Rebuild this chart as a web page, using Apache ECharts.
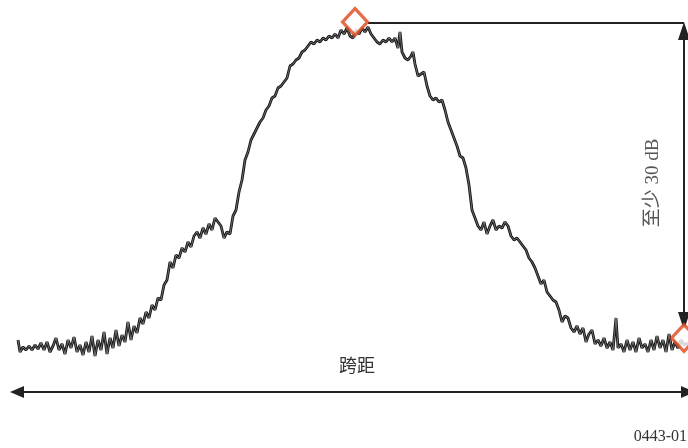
<!DOCTYPE html>
<html><head><meta charset="utf-8">
<script src="https://cdn.jsdelivr.net/npm/echarts@6/dist/echarts.min.js"></script>
<style>html,body{margin:0;padding:0;background:#fff}#c{width:688px;height:448px}</style>
</head><body><div id="c"></div>
<script>
// Frequency bins across the span
const freqBins = [18,20,23,26,29,32,35,38,41,44,47,50,53,56,59,62,65,68,71,74,77,80,83,86,89,92,95,98,101,104,107,110,113,116,119,122,125,128,131,134,137,140,143,146,149,152,155,158,161,164,167,170,173,176,179,182,185,188,191,194,197,200,203,206,209,212,215,218,221,224,227,230,233,236,239,242,245,248,251,254,257,260,263,266,269,272,275,278,281,284,287,290,293,296,299,302,305,308,311,314,317,320,323,326,329,332,335,338,341,344,347,350,353,356,359,362,365,368,371,374,377,380,383,386,389,392,395,398,400,402,405,408,411,413,415,418,421,424,427,430,433,436,439,442,445,448,451,454,457,460,463,466,469,472,475,478,481,484,487,490,493,496,499,502,505,508,511,514,517,520,523,526,529,532,535,538,541,544,547,550,553,556,559,562,565,568,571,574,577,580,583,586,589,592,595,598,601,604,607,610,613,616,618,621,624,627,630,633,636,639,642,645,648,651,654,657,660,663,666,669,672,675,678,681,684,688];
// Measured level relative to the peak (dB)
const levelDb = [-31.8,-33.0,-32.5,-32.8,-32.4,-32.8,-32.3,-32.7,-32.1,-32.8,-32.0,-33.0,-32.4,-31.6,-32.8,-32.2,-33.2,-31.8,-32.6,-31.5,-33.0,-32.3,-33.3,-32.0,-33.0,-31.4,-33.4,-31.8,-32.8,-31.0,-33.2,-31.6,-32.6,-30.8,-32.4,-31.3,-32.0,-30.0,-31.8,-30.4,-31.1,-29.6,-30.2,-29.0,-29.6,-28.3,-28.8,-27.6,-27.8,-26.3,-25.8,-24.0,-24.6,-23.3,-23.6,-22.6,-23.0,-22.0,-22.5,-21.4,-21.0,-21.6,-20.6,-21.2,-20.2,-20.8,-19.6,-20.0,-20.4,-21.6,-21.0,-21.2,-19.4,-18.8,-17.0,-15.8,-13.8,-13.0,-11.8,-11.2,-10.6,-10.0,-9.6,-8.8,-8.4,-7.6,-7.4,-6.6,-6.4,-6.0,-5.6,-4.4,-4.2,-3.8,-3.6,-3.0,-2.8,-2.4,-2.0,-2.2,-1.8,-2.0,-1.6,-1.8,-1.4,-1.6,-1.2,-1.6,-0.8,-1.2,-0.6,-1.4,-1.6,-0.8,-1.2,-0.6,-1.0,-0.5,-1.2,-1.6,-2.0,-2.2,-1.8,-2.0,-1.6,-2.0,-1.6,-2.6,-1.0,-3.0,-3.6,-3.8,-3.4,-3.0,-4.2,-5.4,-5.2,-5.0,-6.4,-7.4,-7.8,-7.6,-8.0,-7.8,-8.8,-10.0,-10.8,-11.6,-12.4,-13.4,-13.6,-14.6,-16.3,-18.8,-19.6,-20.4,-20.8,-20.0,-21.2,-20.4,-19.8,-20.8,-20.4,-20.6,-20.0,-20.4,-21.4,-21.8,-21.6,-22.0,-22.4,-22.8,-23.6,-24.0,-24.6,-25.4,-26.2,-25.8,-27.0,-27.4,-27.8,-28.0,-28.8,-30.0,-29.4,-29.6,-30.6,-31.0,-30.4,-31.2,-30.6,-32.0,-31.2,-30.8,-32.2,-31.8,-32.4,-31.6,-32.6,-32.0,-32.8,-29.6,-32.6,-32.2,-33.0,-31.8,-32.8,-32.0,-33.0,-31.6,-32.6,-32.2,-33.0,-31.8,-32.8,-31.4,-32.6,-31.8,-33.0,-31.2,-32.8,-32.0,-32.6,-31.8,-32.3,-32.1];
// Marker positions [bin, dB]
const markerPts = [[355, 0], [684, -31.6]];
// Annotation values
const peakDb = -0.1;
const arrowTopDb = -0.9, arrowBottomDb = -29.9;
const spanDb = -37.0;
const spanStart = 17, spanEnd = 688;
const refLineStart = 368, arrowBin = 684;
const labels = { depth: '至少 30 dB', span: '跨距', fig: '0443-01' };

const trace = freqBins.map((f, i) => [f, levelDb[i]]);
const chart = echarts.init(document.getElementById('c'));
const ink = '#222';
const serif = "'Liberation Serif','Noto Sans CJK SC',serif";
chart.setOption({
  animation: false,
  grid: { left: 0, right: 0, top: 0, bottom: 0 },
  xAxis: { type: 'value', min: 0, max: 688, show: false },
  yAxis: { type: 'value', min: -42.6, max: 2.2, show: false },
  series: [
    {
      type: 'line', data: trace, showSymbol: false, z: 2,
      lineStyle: { color: '#141414', width: 2.8 },
      markLine: {
        silent: true, symbol: ['triangle', 'triangle'], symbolSize: [12, 18],
        label: { show: false },
        lineStyle: { color: ink, width: 2, type: 'solid' },
        data: [
          [{ coord: [refLineStart, peakDb], symbol: 'none' }, { coord: [arrowBin, peakDb], symbol: 'none' }],
          [{ coord: [arrowBin, arrowTopDb] }, { coord: [arrowBin, arrowBottomDb] }],
          [{ coord: [spanStart, spanDb], symbolSize: [12, 14] }, { coord: [spanEnd, spanDb], symbolSize: [12, 14] }]
        ]
      },
      markPoint: {
        silent: true, symbol: 'circle', symbolSize: 0,
        data: [
          { coord: [357, -34.5], label: { show: true, formatter: labels.span, color: '#333', fontSize: 18, fontFamily: serif, position: 'inside' } },
          { coord: [653, -16.1], label: { show: true, formatter: labels.depth, color: '#555', fontSize: 19, fontFamily: serif, rotate: 90, position: 'inside' } }
        ]
      }
    },
    {
      type: 'line', data: trace, showSymbol: false, z: 3,
      lineStyle: { color: '#ffffff', width: 0.5, opacity: 0.75 }
    },
    {
      type: 'scatter', data: markerPts, z: 5, symbol: 'diamond', symbolSize: [25, 27],
      itemStyle: { color: '#fff', borderColor: '#e0461a', borderWidth: 3.2 }
    }
  ],
  graphic: [{
    type: 'text', right: 1, bottom: 3,
    style: { text: labels.fig, fill: '#333', font: "16px 'Liberation Serif', serif" }
  }]
});
</script></body></html>
